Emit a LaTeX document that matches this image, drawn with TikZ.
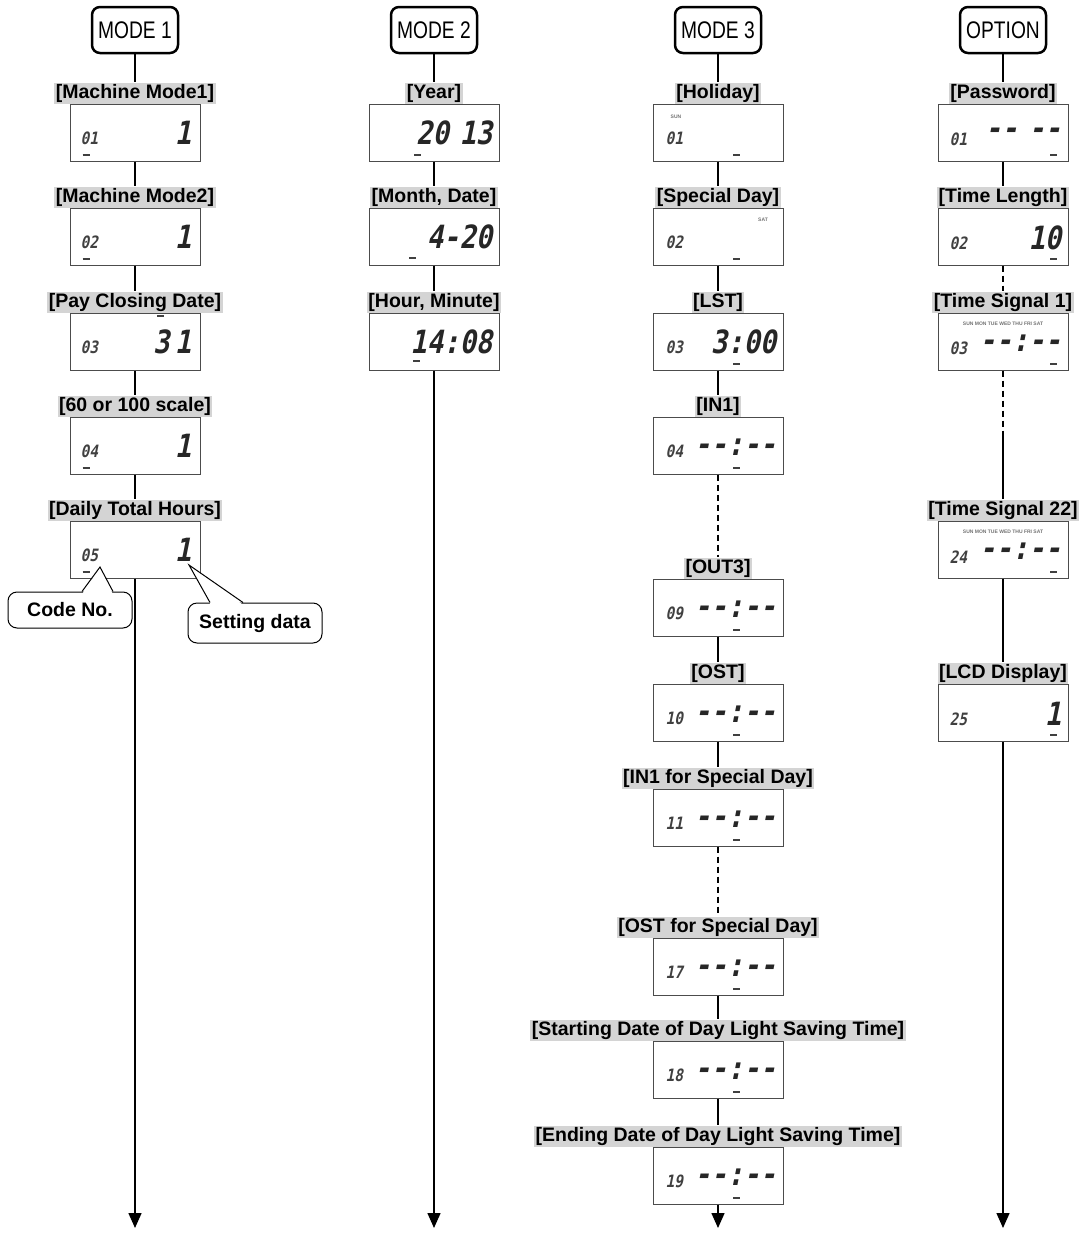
\documentclass[tikz,border=0pt]{standalone}
\usepackage{fontspec}
\setmainfont{Liberation Sans}
\newfontfamily\narrowfont{Liberation Sans}[FakeStretch=0.8]
\newfontfamily\lcdfont{DejaVu Sans Mono}[FakeSlant=0.2,FakeStretch=0.85]
\usetikzlibrary{
  calc,
  positioning,
  arrows.meta}

\begin{document}
\begin{tikzpicture}[
  x=1pt, y=-1pt,
  modebox/.style={draw, line width=2.5pt, rounded corners=8pt,
    minimum width=86pt, minimum height=46pt, inner sep=0pt,
    font=\narrowfont\fontsize{24}{24}\selectfont},
  title/.style={fill=black!17, inner sep=1.5pt, text height=14pt, text depth=4pt,
    font=\bfseries\fontsize{19.5}{20}\selectfont},
  lcd/.style={draw=black!70, line width=1pt, fill=white,
    minimum width=130pt, minimum height=57pt, inner sep=0pt},
  code/.style={anchor=west, inner sep=0pt, text=black!75,
    font=\lcdfont\bfseries\fontsize{17}{17}\selectfont},
  digits/.style={anchor=east, inner sep=0pt, text=black!85,
    font=\lcdfont\bfseries\fontsize{32}{32}\selectfont},
  days/.style={inner sep=0pt, text=black!55,
    font=\bfseries\fontsize{5}{5}\selectfont},
  cursor/.style={line width=2pt, black!75},
  flow/.style={line width=1.5pt},
  arrow/.style={flow, -{Triangle[length=15pt,width=13pt]}},
  callout/.style={draw, line width=1pt, rounded corners=9pt, fill=white,
    font=\bfseries\fontsize{19.5}{20}\selectfont}
]%
  \useasboundingbox (0,0) rectangle (1080,1234);

  % Mode headers
  \node[modebox] (m1) at (135,30)  {MODE 1};
  \node[modebox] (m2) at (434,30)  {MODE 2};
  \node[modebox] (m3) at (718,30)  {MODE 3};
  \node[modebox] (m4) at (1003,30) {OPTION};

  % MODE 1
  \node[title] (l11) at (135,93)  {[Machine Mode1]};
  \node[title] (l12) at (135,197) {[Machine Mode2]};
  \node[title] (l13) at (135,302) {[Pay Closing Date]};
  \node[title] (l14) at (135,406) {[60 or 100 scale]};
  \node[title] (l15) at (135,510) {[Daily Total Hours]};
  \foreach \r/\c/\v in {1/01/1, 2/02/1, 3/03/3\,1, 4/04/1, 5/05/1} {
    \node[lcd, below=0pt of l1\r] (b1\r) {};
    \node[code] (c1\r) at ($(b1\r.west)+(11,6)$) {\c};
    \node[digits] (v1\r) at ($(b1\r.east)+(-9,0)$) {\v};
  }
  \foreach \r in {1,2,4,5}
    \draw[cursor] ($(b1\r.south west)+(13,-7)$) --++ (7,0);
  \draw[cursor] ($(b13.north)+(22,3)$) --++ (7,0);

  % MODE 2
  \node[title] (l21) at (434,93)  {[Year]};
  \node[title] (l22) at (434,197) {[Month, Date]};
  \node[title] (l23) at (434,302) {[Hour, Minute]};
  \foreach \r/\v in {1/20\,\,13, 2/4-20, 3/14:08} {
    \node[lcd, below=0pt of l2\r] (b2\r) {};
    \node[digits] (v2\r) at ($(b2\r.east)+(-7,0)$) {\v};
  }
  \draw[cursor] ($(b21.south)+(-20,-7)$) --++ (7,0);
  \draw[cursor] ($(b22.south)+(-25,-8)$) --++ (7,0);
  \draw[cursor] ($(b23.south)+(-21,-10)$) --++ (7,0);

  % MODE 3
  \node[title] (l31) at (718,93)   {[Holiday]};
  \node[title] (l32) at (718,197)  {[Special Day]};
  \node[title] (l33) at (718,302)  {[LST]};
  \node[title] (l34) at (718,406)  {[IN1]};
  \node[title] (l35) at (718,568)  {[OUT3]};
  \node[title] (l36) at (718,673)  {[OST]};
  \node[title] (l37) at (718,778)  {[IN1 for Special Day]};
  \node[title] (l38) at (718,927)  {[OST for Special Day]};
  \node[title] (l39) at (718,1030) {[Starting Date of Day Light Saving Time]};
  \node[title] (l310) at (718,1136) {[Ending Date of Day Light Saving Time]};
  \foreach \r/\c in {1/01, 2/02, 3/03, 4/04, 5/09, 6/10, 7/11, 8/17, 9/18, 10/19} {
    \node[lcd, below=0pt of l3\r] (b3\r) {};
    \node[code] (c3\r) at ($(b3\r.west)+(13,6)$) {\c};
    \draw[cursor] ($(b3\r.south)+(15,-7)$) --++ (7,0);
  }
  \node[days] (d31) at ($(b31.north)+(-42,13)$) {SUN};
  \node[days] (d32) at ($(b32.north)+(45,12)$) {SAT};
  \node[digits] (v33) at ($(b33.east)+(-7,0)$) {3:00};
  \foreach \r in {4,...,10}
    \node[digits] (v3\r) at ($(b3\r.east)+(-7,1)$) {--:--};

  % OPTION
  \node[title] (l41) at (1003,93)  {[Password]};
  \node[title] (l42) at (1003,197) {[Time Length]};
  \node[title] (l43) at (1003,302) {[Time Signal 1]};
  \node[title] (l44) at (1003,510) {[Time Signal 22]};
  \node[title] (l45) at (1003,673) {[LCD Display]};
  \foreach \r/\c/\v in {1/01/--\,\,--, 2/02/10, 3/03/--:--, 4/24/--:--, 5/25/1} {
    \node[lcd, below=0pt of l4\r] (b4\r) {};
    \node[code] (c4\r) at ($(b4\r.west)+(12,7)$) {\c};
    \node[digits] (v4\r) at ($(b4\r.east)+(-7,1)$) {\v};
    \draw[cursor] ($(b4\r.south)+(47,-7)$) --++ (7,0);
  }
  \node[days] (d43) at ($(b43.north)+(0,11)$) {SUN MON TUE WED THU FRI SAT};
  \node[days] (d44) at ($(b44.north)+(0,11)$) {SUN MON TUE WED THU FRI SAT};

  % Connectors
  \draw[flow] (m1) -- (l11);
  \foreach \r [count=\n from 2] in {1,...,4}
    \draw[flow] (b1\r) -- (l1\n);
  \draw[flow] (m2) -- (l21);
  \foreach \r [count=\n from 2] in {1,2}
    \draw[flow] (b2\r) -- (l2\n);
  \draw[flow] (m3) -- (l31);
  \foreach \a/\b in {1/2, 2/3, 3/4, 5/6, 6/7, 8/9, 9/10}
    \draw[flow] (b3\a) -- (l3\b);
  \draw[flow, dash pattern=on 6pt off 4pt] (b34) -- (l35);
  \draw[flow, dash pattern=on 6pt off 4pt] (b37) -- (l38);
  \draw[flow] (m4) -- (l41);
  \draw[flow] (b41) -- (l42);
  \draw[flow, dash pattern=on 6pt off 4pt] (b42) -- (l43);
  \coordinate (brk4) at (1003,437);
  \draw[flow, dash pattern=on 6pt off 4pt] (b43) -- (brk4);
  \draw[flow] (brk4) -- (l44);
  \draw[flow] (b44) -- (l45);

  % End arrows
  \coordinate (e1) at (135,1228);
  \coordinate (e2) at (434,1228);
  \coordinate (e3) at (718,1228);
  \coordinate (e4) at (1003,1228);
  \draw[arrow] (b15) -- (e1);
  \draw[arrow] (b23) -- (e2);
  \draw[arrow] (b310) -- (e3);
  \draw[arrow] (b45) -- (e4);

  % Callouts
  \node[callout, minimum width=124pt, minimum height=36pt] (codeno) at (70,610) {Code No.};
  \node[callout, minimum width=134pt, minimum height=40pt] (setting) at (255,623) {Setting data};
  \coordinate (codetip) at (100,567);
  \coordinate (settip) at (189,565);
  \fill[white] ($(codeno.north)+(12.5,2)$) -- (codetip) -- ($(codeno.north)+(42.5,2)$) -- cycle;
  \draw[line width=1pt] ($(codeno.north)+(12,0)$) -- (codetip) -- ($(codeno.north)+(43,0)$);
  \fill[white] ($(setting.north)+(-44.5,2)$) -- (settip) -- ($(setting.north)+(-12.5,2)$) -- cycle;
  \draw[line width=1pt] ($(setting.north)+(-45,0)$) -- (settip) -- ($(setting.north)+(-12,0)$);

\end{tikzpicture}
\end{document}
